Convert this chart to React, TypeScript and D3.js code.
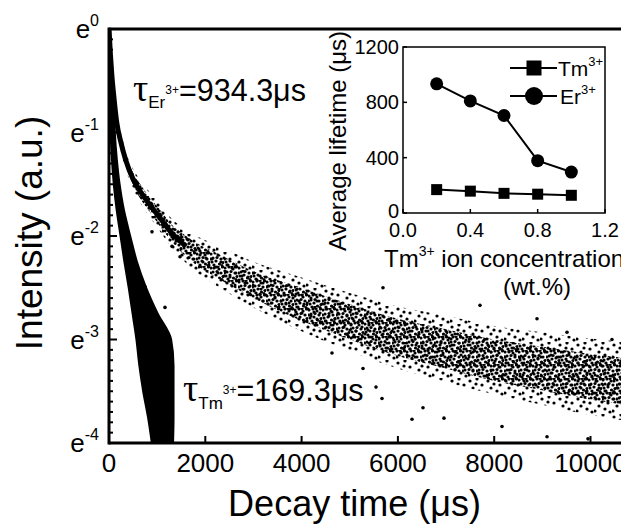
import React from 'react';
import * as d3 from 'd3';

const W = 621;
const H = 525;

// ---- main chart: tick values ----
const yTickExps = [0, -1, -2, -3, -4];
const xTickValues = [0, 2000, 4000, 6000, 8000, 10000];

// ---- Er3+ decay (time in µs, ln of intensity) ----
const erTime = [0, 30, 60, 100, 160, 250, 350, 500, 650, 850, 1050, 1300, 1600, 1900, 2300, 3000, 4000, 5000, 6000, 7000, 8000, 9000, 10000, 11000];
const erMid = [0, -0.25, -0.45, -0.65, -0.9, -1.1, -1.27, -1.45, -1.57, -1.7, -1.82, -1.97, -2.1, -2.2, -2.3, -2.47, -2.66, -2.83, -2.98, -3.09, -3.2, -3.28, -3.36, -3.42];
const erUpper = [0, -0.2, -0.39, -0.58, -0.82, -1.01, -1.18, -1.35, -1.46, -1.58, -1.69, -1.83, -1.94, -2.02, -2.1, -2.25, -2.4, -2.55, -2.68, -2.77, -2.87, -2.93, -2.99, -3.04];
const erLower = [-0.04, -0.3, -0.51, -0.72, -0.98, -1.19, -1.36, -1.55, -1.68, -1.82, -1.95, -2.11, -2.26, -2.38, -2.5, -2.69, -2.92, -3.11, -3.28, -3.41, -3.53, -3.63, -3.73, -3.8];
const erCoreUpper = [0, -0.22, -0.41, -0.61, -0.85, -1.05, -1.22, -1.39, -1.5, -1.63, -1.74, -1.89, -2.0, -2.09, -2.18, -2.34, -2.5, -2.66, -2.8, -2.9, -3.0, -3.07, -3.14, -3.19];
const erCoreLower = [-0.02, -0.28, -0.49, -0.69, -0.95, -1.15, -1.32, -1.51, -1.64, -1.77, -1.9, -2.05, -2.2, -2.31, -2.42, -2.6, -2.82, -3.0, -3.16, -3.28, -3.4, -3.49, -3.58, -3.65];

// ---- Tm3+ decay: time range of the dense cloud at each ln level ----
const tmLn = [0, -0.25, -0.5, -0.75, -1.0, -1.25, -1.5, -1.75, -2.0, -2.25, -2.5, -2.75, -3.0, -3.25, -3.5, -3.75, -4.0];
const tmLeft = [0, 5, 15, 30, 45, 70, 110, 170, 250, 330, 420, 500, 580, 640, 720, 820, 900];
const tmRight = [12, 30, 55, 85, 110, 150, 210, 300, 430, 570, 760, 1000, 1280, 1330, 1330, 1330, 1320];

// ---- isolated points visible outside the clouds ----
const outlierTime = [893, 1308, 1475, 748, 1163, 4631, 5275, 5545, 5670, 5690, 6293, 6521, 6957, 7705, 8162, 8889, 9097, 9512, 9948, 10446];
const outlierLn = [-1.96, -2.1, -2.2, -2.49, -2.69, -3.13, -3.28, -3.46, -3.57, -2.5, -3.77, -3.66, -3.76, -2.67, -3.84, -2.8, -3.94, -2.93, -3.96, -3.0];

// ---- inset data ----
const concentration = [0.2, 0.4, 0.6, 0.8, 1.0];
const tmLifetime = [169, 158, 142, 136, 128];
const erLifetime = [934, 810, 705, 378, 296];
const insetXTicks = [0, 0.4, 0.8, 1.2];
const insetYTicks = [0, 400, 800, 1200];

const SANS = 'Liberation Sans, Arial, sans-serif';
const SERIF = 'Liberation Serif, Times New Roman, serif';

// texture tiles for the scatter clouds (styling only)
const denseDots: [number, number][] = [[1, 2], [5, 1], [9, 3], [12.5, 1], [3, 6], [7, 5.5], [11, 7], [13, 10.5], [2, 10], [6, 9], [9.5, 12], [4, 13], [12, 13.5], [0.5, 7], [8, 0.5]];
const sparseDots: [number, number][] = [[2, 3], [9, 1], [14, 7], [5, 10], [11, 13], [16, 16], [1, 15], [8, 6]];

export default function App() {
  // main scales
  const x = d3.scaleLinear().domain([0, 11000]).range([109, 109 + (11000 / 2000) * 96.3]);
  const y = d3.scaleLinear().domain([0, -4]).range([29, 443]);
  const left = 109, top = 29, bottom = 443;

  const erIdx = erTime.map((_, i) => i);
  const erOuter = d3.area<number>().x(i => x(erTime[i])).y0(i => y(erUpper[i])).y1(i => y(erLower[i])).curve(d3.curveMonotoneX)(erIdx) || '';
  const erCore = d3.area<number>().x(i => x(erTime[i])).y0(i => y(erCoreUpper[i])).y1(i => y(erCoreLower[i])).curve(d3.curveMonotoneX)(erIdx) || '';
  const headIdx = erIdx.filter(i => erTime[i] <= 1600);
  const erHead = d3.line<number>().x(i => x(erTime[i])).y(i => y(erMid[i])).curve(d3.curveMonotoneX)(headIdx) || '';

  const tmIdx = tmLn.map((_, i) => i);
  const tmArea = d3.area<number>().y(i => y(tmLn[i])).x0(i => x(tmLeft[i])).x1(i => x(tmRight[i])).curve(d3.curveMonotoneY)(tmIdx) || '';

  // minor ticks on ln axis (10 intervals per decade)
  const minorTicks = d3.range(0, 41).map(k => -k / 10);

  // inset scales
  const ix = d3.scaleLinear().domain([0, 1.2]).range([403, 605]);
  const iy = d3.scaleLinear().domain([0, 1200]).range([213, 47]);
  const lineGen = (vals: number[]) =>
    d3.line<number>().x((_, i) => ix(concentration[i])).y(v => iy(v))(vals) || '';

  return (
    <svg width={W} height={H} style={{ position: 'absolute', left: 0, top: 0, background: '#fff' }} fontFamily={SANS}>
      <defs>
        <clipPath id="plotClip">
          <rect x={left} y={top} width={W - left} height={bottom - top} />
        </clipPath>
        <pattern id="sparse" width={18} height={18} patternUnits="userSpaceOnUse">
          {sparseDots.map(([cx, cy], i) => <circle key={i} cx={cx} cy={cy} r={1.6} fill="#000" />)}
        </pattern>
        <pattern id="dense" width={14} height={14} patternUnits="userSpaceOnUse">
          {denseDots.map(([cx, cy], i) => <circle key={i} cx={cx} cy={cy} r={1.6} fill="#000" />)}
        </pattern>
      </defs>
      <rect width={W} height={H} fill="#fff" />

      {/* data clouds */}
      <g clipPath="url(#plotClip)">
        <path d={erOuter} fill="url(#sparse)" />
        <path d={erCore} fill="url(#dense)" />
        <path d={erHead} fill="none" stroke="#000" strokeWidth={5} />
        <path d={tmArea} fill="#000" stroke="#000" strokeWidth={3} strokeLinejoin="round" />
        {outlierTime.map((t, i) => (
          <circle key={i} cx={x(t)} cy={y(outlierLn[i])} r={1.8} fill="#000" />
        ))}
      </g>

      {/* axes frame */}
      <line x1={left} y1={top} x2={W} y2={top} stroke="#000" strokeWidth={3} />
      <line x1={left} y1={top - 1.5} x2={left} y2={bottom + 1.5} stroke="#000" strokeWidth={3} />
      <line x1={left} y1={bottom} x2={W} y2={bottom} stroke="#000" strokeWidth={3} />

      {/* y ticks */}
      {minorTicks.map((v, k) => (
        <line key={k} x1={left} x2={left + (k % 10 === 0 ? 8 : 4)} y1={y(v)} y2={y(v)} stroke="#000" strokeWidth={2} />
      ))}
      {yTickExps.map(e => (
        <text key={e} x={99} y={y(e) + 9} textAnchor="end" fontSize={26}>
          e<tspan fontSize={16} dy={-12}>{e}</tspan>
        </text>
      ))}

      {/* x ticks */}
      {xTickValues.map(v => (
        <g key={v}>
          <line x1={x(v)} x2={x(v)} y1={bottom} y2={bottom - 7} stroke="#000" strokeWidth={2} />
          <text x={x(v)} y={bottom + 29} textAnchor="middle" fontSize={26}>{v}</text>
        </g>
      ))}

      {/* axis titles */}
      <text x={(222 + 487) / 2} y={516} textAnchor="middle" fontSize={36}>Decay time (μs)</text>
      <text transform={`translate(42,233) rotate(-90)`} textAnchor="middle" fontSize={37}>Intensity (a.u.)</text>

      {/* annotations */}
      <text x={133} y={101} fontSize={30}>
        <tspan fontFamily={SERIF} fontSize={38}>τ</tspan>
        <tspan fontSize={17} dy={7}>Er</tspan>
        <tspan fontSize={12} dy={-14}>3+</tspan>
        <tspan fontSize={30.5} dy={7}>=934.3μs</tspan>
      </text>
      <text x={183} y={401} fontSize={30}>
        <tspan fontFamily={SERIF} fontSize={38}>τ</tspan>
        <tspan fontSize={17} dy={8}>Tm</tspan>
        <tspan fontSize={12} dy={-15}>3+</tspan>
        <tspan fontSize={30.5} dy={7}>=169.3μs</tspan>
      </text>

      {/* inset */}
      <rect x={403} y={47} width={202} height={166} fill="#fff" stroke="#000" strokeWidth={1.5} />
      {insetYTicks.map(v => (
        <g key={v}>
          <line x1={403} x2={407} y1={iy(v)} y2={iy(v)} stroke="#000" strokeWidth={1.5} />
          <text x={399} y={iy(v) + (v === 0 ? 5 : 7)} textAnchor="end" fontSize={20}>{v}</text>
        </g>
      ))}
      {insetXTicks.map(v => (
        <g key={v}>
          <line x1={ix(v)} x2={ix(v)} y1={213} y2={209} stroke="#000" strokeWidth={1.5} />
          <text x={ix(v)} y={237} textAnchor="middle" fontSize={20}>{v.toFixed(1)}</text>
        </g>
      ))}
      <path d={lineGen(erLifetime)} fill="none" stroke="#000" strokeWidth={2} />
      <path d={lineGen(tmLifetime)} fill="none" stroke="#000" strokeWidth={2} />
      {concentration.map((c, i) => (
        <g key={c}>
          <circle cx={ix(c)} cy={iy(erLifetime[i])} r={6.5} fill="#000" />
          <rect x={ix(c) - 5.5} y={iy(tmLifetime[i]) - 5.5} width={11} height={11} fill="#000" />
        </g>
      ))}
      {/* inset legend */}
      <line x1={510} x2={557} y1={68} y2={68} stroke="#000" strokeWidth={2} />
      <rect x={534 - 7.5} y={68 - 7.5} width={15} height={15} fill="#000" />
      <text x={558} y={76} fontSize={21}>Tm<tspan fontSize={13} dy={-10}>3+</tspan></text>
      <line x1={510} x2={557} y1={96} y2={96} stroke="#000" strokeWidth={2} />
      <circle cx={534} cy={96} r={9} fill="#000" />
      <text x={560} y={104} fontSize={21}>Er<tspan fontSize={13} dy={-10}>3+</tspan></text>

      <text transform={`translate(346,141) rotate(-90)`} textAnchor="middle" fontSize={24}>Average lifetime (μs)</text>
      <text x={384} y={267} fontSize={24}>Tm<tspan fontSize={14} dy={-11}>3+</tspan><tspan dy={11}> ion concentration</tspan></text>
      <text x={537} y={295} textAnchor="middle" fontSize={24}>(wt.%)</text>
    </svg>
  );
}
